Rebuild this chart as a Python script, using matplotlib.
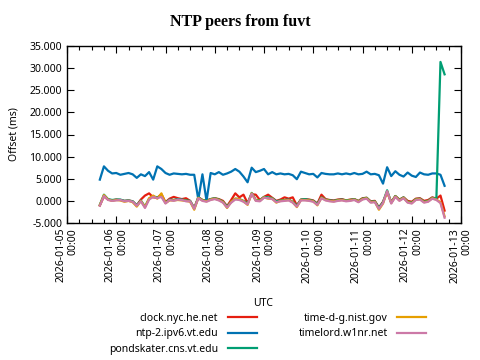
import numpy as np
import pandas as pd
import matplotlib
matplotlib.use("Agg")
import matplotlib.pyplot as plt
import matplotlib.dates as mdates
from matplotlib.ticker import FormatStrFormatter

# samples every 2 hours, 2026-01-05 16:00 .. 2026-01-12 16:00 (UTC)
times = pd.date_range("2026-01-05 16:00", periods=85, freq="2h")

clock_nyc = [-1.0, 1.0, 0.3, 0.1, 0.3, 0.2, 0.0, 0.1, -0.1, -1.0,
             0.3, 1.2, 1.7, 0.8, 0.7, 1.5, -0.3, 0.5, 0.9, 0.6,
             0.4, 0.6, 0.0, -1.6, 0.8, 0.2, 0.1, 0.4, 0.6, 0.4,
             0.0, -1.2, 0.2, 1.7, 0.8, 1.4, -0.5, 1.5, 1.4, 0.2,
             0.9, 1.4, 0.7, 0.0, 0.3, 0.8, 0.5, 0.8, -1.0, 0.3,
             0.4, 0.3, 0.1, -0.6, 1.4, 0.4, 0.2, 0.1, 0.3, 0.4,
             0.1, 0.3, 0.4, 0.0, 0.6, 0.7, -0.1, 0.0, -1.5, -0.2,
             2.0, -0.3, 1.1, 0.3, 0.8, 0.0, -0.2, 0.5, 0.6, 0.0,
             0.2, 0.8, 0.5, 1.2, -2.2]

ntp2_vt = [4.8, 7.8, 6.8, 6.2, 6.3, 5.9, 6.1, 6.3, 6.0, 5.2,
           6.0, 5.6, 6.5, 4.8, 7.8, 7.2, 6.3, 5.9, 6.2, 6.1,
           6.0, 6.1, 5.9, 5.9, 0.3, 6.0, 0.0, 6.3, 6.0, 6.5,
           5.9, 6.2, 6.6, 7.2, 6.6, 5.5, 4.2, 7.5, 6.5, 6.8,
           7.2, 6.0, 6.5, 6.0, 6.2, 6.0, 6.1, 5.8, 4.9, 6.6,
           6.3, 6.0, 6.1, 5.3, 6.3, 6.1, 6.0, 6.0, 6.2, 6.0,
           6.2, 6.0, 6.3, 6.0, 6.1, 6.6, 6.0, 6.1, 5.8, 3.9,
           7.6, 5.6, 6.7, 5.9, 5.5, 6.4, 5.7, 5.4, 6.4, 6.0,
           5.9, 6.2, 6.2, 5.9, 3.4]

pondskater = [-0.9, 1.4, 0.4, 0.2, 0.3, 0.3, 0.0, 0.1, -0.1, -1.0,
              0.1, -1.3, 0.5, 1.0, 0.8, 1.1, -0.4, 0.3, 0.2, 0.4,
              0.3, 0.1, 0.0, -1.7, 0.8, 0.2, 0.0, 0.4, 0.6, 0.3,
              -0.2, -1.3, -0.2, 0.5, 0.4, 0.0, -0.6, 1.8, 0.2, 0.1,
              0.9, 0.8, 0.6, -0.1, 0.1, 0.2, 0.3, -0.2, -1.1, 0.3,
              0.4, 0.2, 0.0, -0.7, 0.8, 0.3, 0.1, 0.0, 0.2, 0.3,
              0.1, 0.2, 0.4, -0.1, 0.5, 0.7, -0.2, -0.1, -1.6, -0.3,
              2.4, -0.4, 1.1, 0.2, 0.8, -0.2, -0.4, 0.4, 0.5, -0.2,
              0.0, 0.7, 0.5, 31.4, 28.6]

time_nist = [-1.0, 1.3, 0.3, 0.0, 0.2, 0.1, -0.2, 0.0, -0.3, -1.3,
             0.0, -1.4, 0.6, 1.2, 0.5, 1.7, -0.5, 0.1, 0.1, 0.2,
             0.1, 0.0, -0.2, -2.0, 0.7, 0.1, -0.1, 0.3, 0.5, 0.2,
             -0.3, -1.6, -0.2, 0.5, 0.4, -0.1, -0.9, 1.7, 0.1, 0.0,
             0.8, 0.5, 0.5, -0.4, 0.0, 0.1, 0.2, -0.3, -1.4, 0.2,
             0.2, 0.1, -0.1, -1.0, 0.7, 0.2, 0.0, -0.1, 0.1, 0.2,
             0.0, 0.1, 0.3, -0.2, 0.4, 0.6, -0.3, -0.2, -2.0, -0.6,
             2.1, -0.5, 1.0, 0.1, 0.7, -0.3, -0.5, 0.3, 0.4, -0.3,
             -0.1, 0.6, 0.3, -0.3, -3.5]

timelord = [-1.1, 1.1, 0.2, 0.0, 0.1, 0.2, -0.1, 0.0, -0.2, -1.1,
            -0.1, -1.6, 0.3, 0.9, 0.6, 0.9, -0.6, 0.2, 0.0, 0.3,
            0.2, -0.1, -0.1, -1.8, 0.6, 0.0, -0.2, 0.2, 0.4, 0.1,
            -0.4, -1.5, -0.4, 0.3, 0.2, -0.2, -0.8, 1.6, 0.0, -0.1,
            0.7, 0.6, 0.4, -0.3, -0.1, 0.0, 0.1, -0.4, -1.3, 0.1,
            0.1, 0.0, -0.2, -0.9, 0.6, 0.1, -0.1, -0.2, 0.0, 0.1,
            -0.1, 0.0, 0.2, -0.3, 0.3, 0.5, -0.4, -0.3, -1.8, -0.5,
            2.2, -0.6, 0.9, 0.0, 0.6, -0.4, -0.6, 0.2, 0.3, -0.4,
            -0.2, 0.5, 0.2, -0.5, -3.8]

peers = ["clock.nyc.he.net", "ntp-2.ipv6.vt.edu", "pondskater.cns.vt.edu",
         "time-d-g.nist.gov", "timelord.w1nr.net"]
series = [clock_nyc, ntp2_vt, pondskater, time_nist, timelord]
colors = ["#e51e10", "#0072b2", "#009e73", "#e69f00", "#cc79a7"]

plt.rcParams["font.family"] = ["Noto Sans", "DejaVu Sans"]

fig = plt.figure(figsize=(4.8, 3.6), dpi=100)
ax = fig.add_axes([67 / 480, 1 - 223 / 360, 394 / 480, 177 / 360])

for name, vals, c in zip(peers, series, colors):
    ax.plot(times, vals, color=c, linewidth=1.6, label=name)

ax.set_xlim(pd.Timestamp("2026-01-05"), pd.Timestamp("2026-01-13"))
ax.set_ylim(-5, 35)
ax.set_yticks(np.arange(-5, 36, 5))
ax.yaxis.set_major_formatter(FormatStrFormatter("%.3f"))
ax.xaxis.set_major_locator(mdates.DayLocator())
ax.xaxis.set_minor_locator(mdates.HourLocator(byhour=[6, 12, 18]))
ax.xaxis.set_major_formatter(mdates.DateFormatter("%Y-%m-%d\n%H:%M"))

ax.tick_params(which="both", direction="in", top=True, right=True,
               labelsize=7.5, width=0.8, color="black")
ax.tick_params(which="major", length=5)
ax.tick_params(which="minor", length=3)
for lab in ax.get_xticklabels():
    lab.set_rotation(90)
    lab.set_multialignment("right")
    lab.set_ha("center")
    lab.set_va("top")
for sp in ax.spines.values():
    sp.set_linewidth(1.0)

ax.set_ylabel("Offset (ms)", fontsize=7.5)
ax.yaxis.set_label_coords(-0.12, 0.5)
ax.set_xlabel("UTC", fontsize=7.5)
ax.xaxis.set_label_coords(0.497, -0.425)

fig.text(0.5, 1 - 22 / 360, "NTP peers from fuvt", ha="center", va="center",
         fontsize=11.5, fontweight="bold", family="Liberation Serif")

fig.legend(loc="upper left", bbox_to_anchor=(109 / 480, 1 - 313 / 360), ncol=2,
           frameon=False, markerfirst=False, fontsize=7.5, handlelength=2.8,
           handletextpad=0.9, columnspacing=4.0, labelspacing=0.42,
           borderpad=0, borderaxespad=0)

fig.savefig("out.png", dpi=100)
